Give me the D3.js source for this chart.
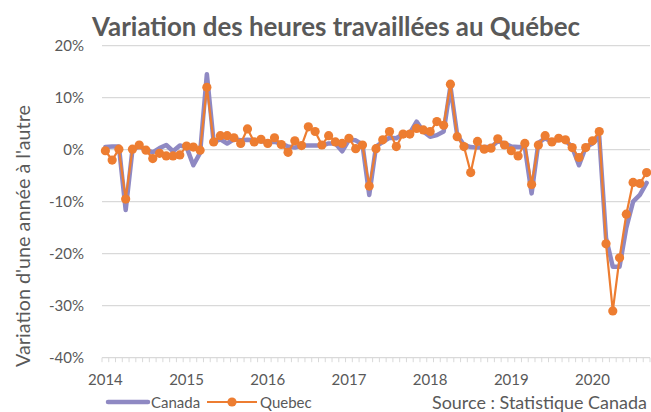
<!DOCTYPE html>
<html>
<head>
<meta charset="utf-8">
<script src="https://cdn.jsdelivr.net/npm/d3@7/dist/d3.min.js"></script>
<style>
  body { margin: 0; background: #ffffff; }
  svg { display: block; }
  text { font-family: Lato, "Open Sans", "Noto Sans", sans-serif; fill: #595959; }
</style>
</head>
<body>
<svg id="chart" width="651" height="412"></svg>
<script>
// ---------- DATA ----------
const chartTitle = "Variation des heures travaillées au Québec";
const yAxisTitle = "Variation d'une année à l'autre";
const sourceText = "Source : Statistique Canada";
const seriesNames = ["Canada", "Quebec"];

const months = [
  "2014-01","2014-02","2014-03","2014-04","2014-05","2014-06","2014-07","2014-08","2014-09","2014-10","2014-11","2014-12",
  "2015-01","2015-02","2015-03","2015-04","2015-05","2015-06","2015-07","2015-08","2015-09","2015-10","2015-11","2015-12",
  "2016-01","2016-02","2016-03","2016-04","2016-05","2016-06","2016-07","2016-08","2016-09","2016-10","2016-11","2016-12",
  "2017-01","2017-02","2017-03","2017-04","2017-05","2017-06","2017-07","2017-08","2017-09","2017-10","2017-11","2017-12",
  "2018-01","2018-02","2018-03","2018-04","2018-05","2018-06","2018-07","2018-08","2018-09","2018-10","2018-11","2018-12",
  "2019-01","2019-02","2019-03","2019-04","2019-05","2019-06","2019-07","2019-08","2019-09","2019-10","2019-11","2019-12",
  "2020-01","2020-02","2020-03","2020-04","2020-05","2020-06","2020-07","2020-08","2020-09"
];

const yearLabels = ["2014","2015","2016","2017","2018","2019","2020"];
const yTickValues = [20, 10, 0, -10, -20, -30, -40];

// year-over-year change, %
const canada = [
   0.5,  0.6,  0.6, -11.6,  0.0,  0.6,  0.0, -0.5,  0.3,  0.9, -0.3,  0.8,
   0.5, -3.0, -0.6,  14.5,  1.5,  2.0,  1.2,  2.0,  1.8,  1.9,  1.8,  1.6,
   1.5,  1.5,  1.2,   0.6,  0.4,  0.8,  0.8,  0.8,  0.8,  1.2,  1.2, -0.3,
   1.9,  1.8,  1.0,  -8.7,  0.6,  1.5,  2.3,  2.2,  3.0,  3.2,  5.4,  3.5,
   2.5,  2.8,  3.5,  12.2,  2.8,  0.9,  0.5,  0.4,  0.5,  0.5,  1.6,  1.2,
   0.6,  0.5,  0.5,  -8.4,  1.3,  2.2,  1.5,  2.0,  1.8,  0.5, -3.0,  0.5,
   1.2,  2.5, -17.0, -22.5, -22.5, -15.0, -10.0, -8.7, -6.4
];

const quebec = [
  -0.2, -2.0,  0.1,  -9.5,  0.1,  0.9, -0.1, -1.7, -0.7, -1.2, -1.2, -1.0,
   0.7,  0.5, -0.1,  12.0,  1.5,  2.7,  2.7,  2.3,  1.2,  4.0,  1.5,  2.0,
   1.2,  2.3,  1.0,  -0.5,  1.7,  0.8,  4.4,  3.5,  0.9,  2.7,  1.5,  1.2,
   2.2,  0.2,  0.9,  -7.0,  0.2,  1.9,  3.5,  0.6,  3.0,  3.0,  4.1,  3.8,
   3.5,  5.4,  4.7,  12.6,  2.5,  0.6, -4.4,  1.6,  0.1,  0.3,  2.1,  0.9,
  -0.2, -1.2,  1.2,  -6.7,  0.9,  2.7,  1.5,  2.2,  1.9,  0.4, -1.5,  0.4,
   1.7,  3.5, -18.1, -31.0, -20.8, -12.4, -6.3, -6.5, -4.4
];

// ---------- LAYOUT ----------
const plot = { left: 102, right: 650, top: 45.7, bottom: 357.7 };
const colors = { canada: "#8F89C3", quebec: "#ED7D31", grid: "#D9D9D9", text: "#595959" };

const svg = d3.select("#chart");

const x = d3.scaleBand().domain(months).range([plot.left, plot.right]).paddingInner(0).paddingOuter(0);
const y = d3.scaleLinear().domain([-40, 20]).range([plot.bottom, plot.top]);
const cx = m => x(m) + x.bandwidth() / 2;

function fitWidth(sel, target) {
  const w = sel.node().getComputedTextLength();
  const fs = parseFloat(sel.attr("font-size"));
  if (w > 0) sel.attr("font-size", fs * target / w);
  return sel;
}

// gridlines
svg.append("g").selectAll("line")
  .data(yTickValues)
  .join("line")
  .attr("x1", plot.left).attr("x2", plot.right)
  .attr("y1", d => y(d)).attr("y2", d => y(d))
  .attr("stroke", colors.grid).attr("stroke-width", 1.3);

// category tick marks along the bottom axis
const boundaries = months.map(m => x(m)).concat([x(months[months.length - 1]) + x.bandwidth()]);
svg.append("g").selectAll("line")
  .data(boundaries)
  .join("line")
  .attr("x1", d => d).attr("x2", d => d)
  .attr("y1", y(-40)).attr("y2", y(-40) + 4.5)
  .attr("stroke", colors.grid).attr("stroke-width", 1);

// y axis labels
const yAxis = d3.axisLeft(y).tickValues(yTickValues).tickFormat(d => d + "%").tickSize(0).tickPadding(18);
const gy = svg.append("g").attr("transform", `translate(${plot.left},0)`).call(yAxis);
gy.select(".domain").remove();
gy.selectAll("text").attr("font-size", 15).style("font-family", "Lato, 'Open Sans', sans-serif").attr("fill", colors.text);

// x axis year labels
const janMonths = yearLabels.map(yr => yr + "-01");
const xAxis = d3.axisBottom(x).tickValues(janMonths).tickFormat(m => m.slice(0, 4)).tickSize(0).tickPadding(17);
const gx = svg.append("g").attr("transform", `translate(0,${plot.bottom})`).call(xAxis);
gx.select(".domain").remove();
gx.selectAll("text").attr("font-size", 15).style("font-family", "Lato, 'Open Sans', sans-serif").attr("fill", colors.text);

// lines
const lineGen = vals => d3.line()
  .x((d, i) => cx(months[i]))
  .y(d => y(d))(vals);

svg.append("path")
  .attr("d", lineGen(canada))
  .attr("fill", "none")
  .attr("stroke", colors.canada)
  .attr("stroke-width", 4.5)
  .attr("stroke-linejoin", "round")
  .attr("stroke-linecap", "round");

svg.append("path")
  .attr("d", lineGen(quebec))
  .attr("fill", "none")
  .attr("stroke", colors.quebec)
  .attr("stroke-width", 2.2)
  .attr("stroke-linejoin", "round");

svg.append("g").selectAll("circle")
  .data(quebec)
  .join("circle")
  .attr("cx", (d, i) => cx(months[i]))
  .attr("cy", d => y(d))
  .attr("r", 4.6)
  .attr("fill", colors.quebec);

// title
const t = svg.append("text")
  .attr("x", 336).attr("y", 36)
  .attr("text-anchor", "middle")
  .attr("font-size", 22)
  .attr("font-weight", "bold")
  .text(chartTitle);
fitWidth(t, 488);

// y axis title
const yt = svg.append("text")
  .attr("transform", "translate(22,236) rotate(-90)")
  .attr("text-anchor", "middle")
  .attr("dominant-baseline", "central")
  .attr("font-size", 15)
  .text(yAxisTitle);
fitWidth(yt, 262);

// legend
const ly = 402;
svg.append("line").attr("x1", 108).attr("x2", 148).attr("y1", ly).attr("y2", ly)
  .attr("stroke", colors.canada).attr("stroke-width", 4.5).attr("stroke-linecap", "round");
svg.append("text").attr("x", 151).attr("y", ly).attr("dominant-baseline", "central")
  .attr("font-size", 15).text(seriesNames[0]);
svg.append("line").attr("x1", 207).attr("x2", 257).attr("y1", ly).attr("y2", ly)
  .attr("stroke", colors.quebec).attr("stroke-width", 2.2);
svg.append("circle").attr("cx", 232).attr("cy", ly).attr("r", 4.6).attr("fill", colors.quebec);
svg.append("text").attr("x", 260).attr("y", ly).attr("dominant-baseline", "central")
  .attr("font-size", 15).text(seriesNames[1]);

const st = svg.append("text").attr("x", 432).attr("y", ly).attr("dominant-baseline", "central")
  .attr("font-size", 15).text(sourceText);
fitWidth(st, 215);
</script>
</body>
</html>
